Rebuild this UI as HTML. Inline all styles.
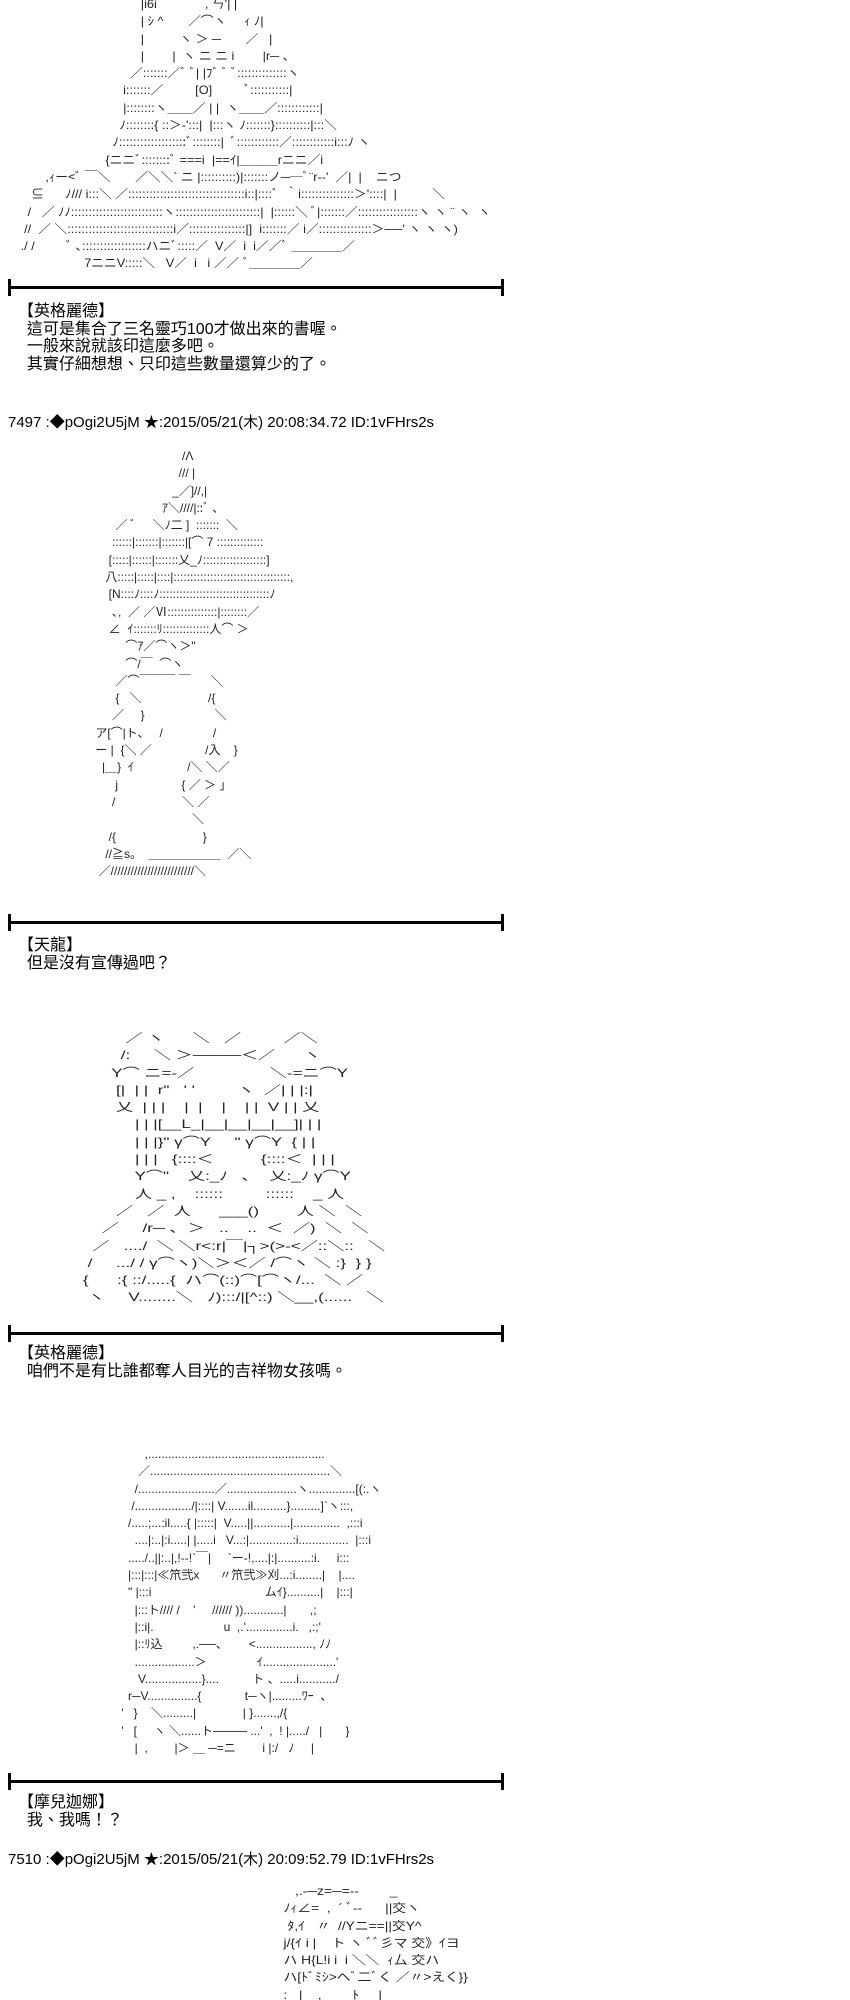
<!DOCTYPE html>
<html><head><meta charset="utf-8"><style>
html,body{margin:0;padding:0;background:#fff;width:850px;height:2000px;overflow:hidden;position:relative}
.aa{position:absolute;margin:0;font-family:"Liberation Sans","Noto Sans CJK JP",sans-serif;font-size:12px;line-height:17.3px;color:#222;white-space:pre;transform-origin:0 0}
.sep{position:absolute;left:8px;width:496px;height:3px;background:#000}
.sep:before,.sep:after{content:"";position:absolute;top:-7px;width:3px;height:17px;background:#000}
.sep:before{left:0}.sep:after{right:0}
.t{position:absolute;font-family:"Liberation Sans","Noto Sans CJK TC",sans-serif;font-size:16px;line-height:17.5px;color:#000;white-space:pre}
.h{position:absolute;left:8px;font-family:"Liberation Sans","Noto Sans CJK JP",sans-serif;font-size:15px;color:#000;white-space:pre}
</style></head><body>

<pre class="aa" style="left:10px;top:-4px;transform:scaleX(1.06)">                                     |i6i    ￣      , ㄣ'| |
                                     | ｼ ^       ／⌒ヽ     ｨ ﾉ|
                                     |          ヽ ＞ ─       ／   |
                                     |        |  ヽ ニ ニ i        |r─ 、
                                  ／:::::::／ﾞ ﾞ| |ﾌﾞ ﾞ ﾞ::::::::::::::ヽ
                                i:::::::／         [O]         ﾞ:::::::::::|
                                |::::::::ヽ＿＿／ | |  ヽ＿＿／::::::::::::|
                               ﾉ::::::::{ ::＞-':::|  |:::ヽ ﾉ:::::::}::::::::::|:::＼
                             ﾉ:::::::::::::::::::ﾞ::::::::|  ﾞ::::::::::::／::::::::::::i:::ﾉ ヽ
                           {ニニﾞ::::::::ﾞ ===i  |==ｲ|＿＿＿rニニ／i
          ,ｨー<ﾞ ￣＼       ／＼＼` ニ |::::::::::)|:::::::ノ──ﾞ¨r--'  ／|  |    ニつ
      ⊆      ﾉ/// i:::＼ ／:::::::::::::::::::::::::::::::::i::|::::ﾞ  ｀i:::::::::::::::＞'::::|  |          ＼
     /   ／ ﾉﾉ::::::::::::::::::::::::::ヽ::::::::::::::::::::::::|  |::::::＼ ﾞ|:::::::／:::::::::::::::::ヽ ヽ ¨ ヽ  ヽ
    //  ／ ＼::::::::::::::::::::::::::::::i／::::::::::::::::|]  i:::::::／ i／:::::::::::::::＞──' ヽ ヽ ヽ)
   ./ /         ﾞ ､::::::::::::::::::ハニﾞ:::::／  V／  i  i／／ﾞ ＿＿＿＿／
                     7ニニV:::::＼   V／  i   i ／／ ﾞ＿＿＿＿／</pre>

<div class="sep" style="top:286px"></div>
<div class="t" style="left:18px;top:303px">【英格麗德】
  這可是集合了三名靈巧100才做出來的書喔。
  一般來說就該印這麼多吧。
  其實仔細想想、只印這些數量還算少的了。</div>

<div class="h" style="top:411px">7497 :◆pOgi2U5jM ★:2015/05/21(木) 20:08:34.72 ID:1vFHrs2s</div>

<pre class="aa" style="left:92px;top:448px">                           /Λ
                          /// |
                        _／]//,|
                     ｱ＼////|::ﾞ ､
       ／ ﾞ     ＼ﾉ二 ]  :::::::  ＼
      ::::::|:::::::|:::::::|[⌒ 7 ::::::::::::::
     [:::::|::::::|:::::::乂_ﾉ:::::::::::::::::::]
    八:::::|:::::|::::|:::::::::::::::::::::::::::::::::::,
     [N::::ﾉ::::ﾉ:::::::::::::::::::::::::::::::::ﾉ
      ､,  ／ ／Ⅵ:::::::::::::::|::::::::／
     ∠  ｲ:::::::ﾘ::::::::::::::人⌒ ＞
          ⌒ｱ／⌒ヽ＞"
          ⌒/￣  ⌒ヽ
       ／⌒￣￣￣ ￣      ＼
       {   ＼                    /{
      ／     }                     ＼
 ア[⌒|ト、   /               /
 ー |  {＼ ／                /入    }
   |＿}  ｲ                /＼ ＼／
       j                   { ／ ＞ ｣
      /                    ＼ ／
                              ＼
     /{                          }
    //≧s。  ＿＿＿＿＿＿  ／＼
  ／/////////////////////////＼</pre>

<div class="sep" style="top:921px"></div>
<div class="t" style="left:18px;top:937px">【天龍】
  但是沒有宣傳過吧？</div>

<pre class="aa" style="left:45px;top:1030px;transform:scaleX(1.42)">                 ／ ヽ      ＼   ／         ／＼
                /:     ＼ ＞────＜／      ヽ
              Y⌒ ニ=-／                ＼-=ニ⌒Y
               [|  | |  r"   ' '         ヽ  ／| | |:|
               乂  | | |    |  |    |    | |  V | | 乂
                   | | |[__L_|__|__|__|__]| | |
                   | | |}" γ⌒Y     " γ⌒Y  { | |
                   | | |   {::::＜          {::::＜  | | |
                   Y⌒"    乂:_ﾉ   ､    乂:_ﾉ γ⌒Y
                   人 _ ,    ::::::         ::::::    _ 人
               ／   ／  人      ___()        人 ＼  ＼
            ／     /r─ ､  ＞   ..    ..  ＜  ／)  ＼  ＼
          ／   ..../  ＼ ＼r<:r|￣|┐>(>-<／::＼::   ＼
         /     .../ / γ⌒ヽ)＼＞＜／ /⌒ヽ ＼ :}  } }
        {      :{ ::/.....{  ハ⌒(::)⌒[⌒ヽ/...  ＼ ／
         ヽ     V........＼   ﾉ):::/|[^::) ＼__,(......   ＼</pre>

<div class="sep" style="top:1332px"></div>
<div class="t" style="left:18px;top:1345px">【英格麗德】
  咱們不是有比誰都奪人目光的吉祥物女孩嗎。</div>

<pre class="aa" style="left:108px;top:1446px">           ,.....................................................
         ／......................................................＼
        /.......................／.....................ヽ..............[(:.ヽ
       /................./|::::| V.......il..........}.........]`ヽ:::,
      /.....;...:il.....{ |:::::|  V.....||...........|..............  ,:::i
        ....|:..|:i.....| |.....i   V...:|.............:i...............  |:::i
      ...../..||:..|,!--!`￣|     `ー-!,....|:|..........:i.     i:::
      |:::|:::|≪笊弐x      〃笊弐≫刈...:i........|    |....
      " |:::i                                  ムｲ}..........|    |:::|
        |:::ト//// /    '     ////// ))............|       ,;
        |::i|.                     u  ,.'..............i.   ,:;'
        |::ﾘ込         ,.──､        <................., ﾉﾉ
        ..................＞               ｲ......................'
         V.................}....          ト 、.....i.........../
      r─V...............{             t─ヽ|.........ﾜｰ  、
    '   }    ＼.........|              | }.......,/{
    '   [     ヽ ＼......ト──── ...'  ,  ! |...../   |       }
        |  ,        |＞ ＿ ─=ニ        i |:/   ﾉ     |</pre>

<div class="sep" style="top:1780px"></div>
<div class="t" style="left:18px;top:1794px">【摩兒迦娜】
  我、我嗎！？</div>

<div class="h" style="top:1848px">7510 :◆pOgi2U5jM ★:2015/05/21(木) 20:09:52.79 ID:1vFHrs2s</div>

<pre class="aa" style="left:272px;top:1883px;transform:scaleX(1.15)">      ,.-─z=─=--        _
   ﾉｨ∠=  ,  ´ ﾞ--      ||交ヽ
    ﾀ,ｲ   〃  //Yニ==||交Y^
   j/{ｲ i |    ト ヽ ﾞﾞ彡マ 交》ｲヨ
   ハ H{L!i i  i ＼＼  ｨ厶 交ハ
   ハ[ﾄﾞﾐｼ>へﾞ二ﾞく ／〃>えく}}
   :   |    ,        ﾄ     |    </pre>
</body></html>
